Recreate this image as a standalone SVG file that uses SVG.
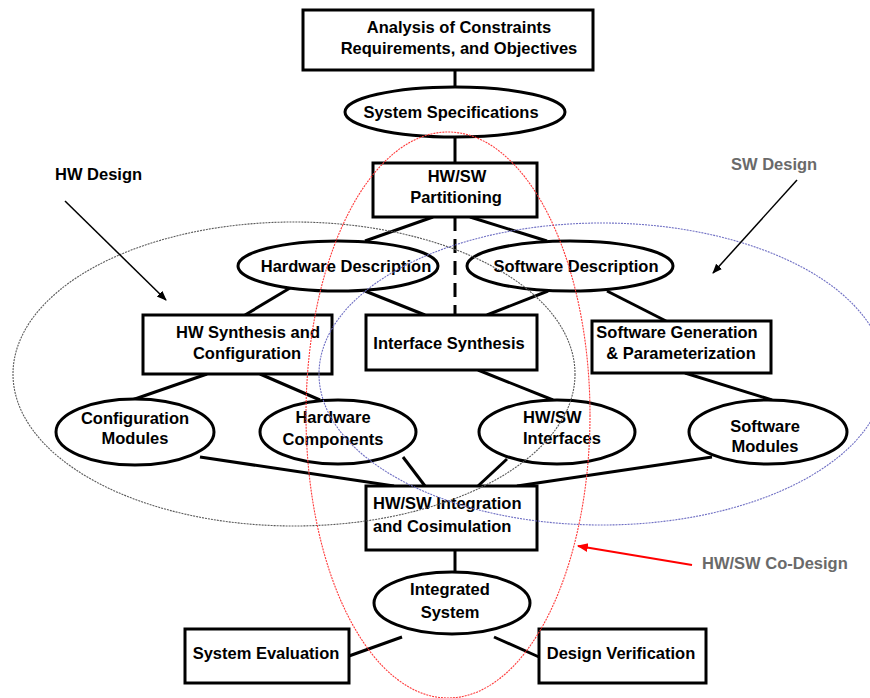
<svg xmlns="http://www.w3.org/2000/svg" width="870" height="698" viewBox="0 0 870 698">
  <style>
    .box { fill: #fff; stroke: #000; stroke-width: 3; }
    .oval { fill: #fff; stroke: #000; stroke-width: 3; }
    .link { stroke: #000; stroke-width: 3; fill: none; }
    .t { font-family: "Liberation Sans", Arial, sans-serif; font-weight: bold; font-size: 16.5px; fill: #000; }
    .c { text-anchor: middle; }
    .grey { fill: #6a6a6a; }
    .region { fill: none; stroke-width: 1.1; stroke-dasharray: 2 1; }
  </style>
  <defs>
    <marker id="head" viewBox="0 0 10 10" refX="9" refY="5" markerWidth="10" markerHeight="10" markerUnits="userSpaceOnUse" orient="auto">
      <path d="M0,1 L10,5 L0,9 z" fill="#000"/>
    </marker>
    <marker id="headRed" viewBox="0 0 10 10" refX="9" refY="5" markerWidth="11" markerHeight="11" markerUnits="userSpaceOnUse" orient="auto">
      <path d="M0,1 L10,5 L0,9 z" fill="#f00"/>
    </marker>
  </defs>
  <rect width="870" height="698" fill="#fff"/>

  <!-- connectors -->
  <g id="connectors">
    <line class="link" x1="455" y1="70" x2="455" y2="88"/>
    <line class="link" x1="455" y1="138" x2="455" y2="163"/>
    <line class="link" x1="455" y1="217" x2="455" y2="315" stroke-dasharray="14 8"/>
    <line class="link" x1="433" y1="217" x2="365" y2="241"/>
    <line class="link" x1="470" y1="217" x2="547" y2="241"/>
    <line class="link" x1="365" y1="291" x2="425" y2="315"/>
    <line class="link" x1="548" y1="291" x2="487" y2="315"/>
    <line class="link" x1="290" y1="288" x2="245" y2="315"/>
    <line class="link" x1="607" y1="291" x2="666" y2="321"/>
    <line class="link" x1="207" y1="374" x2="132" y2="400"/>
    <line class="link" x1="260" y1="374" x2="320" y2="400"/>
    <line class="link" x1="478" y1="370" x2="553" y2="400"/>
    <line class="link" x1="685" y1="373" x2="772" y2="400"/>
    <line class="link" x1="200" y1="457" x2="394" y2="486"/>
    <line class="link" x1="403" y1="457" x2="425" y2="486"/>
    <line class="link" x1="507" y1="459" x2="478" y2="486"/>
    <line class="link" x1="712" y1="457" x2="517" y2="486"/>
    <line class="link" x1="455" y1="550" x2="455" y2="572"/>
    <line class="link" x1="402" y1="637" x2="349" y2="656"/>
    <line class="link" x1="494" y1="637" x2="539" y2="657"/>
  </g>

  <!-- nodes -->
  <g id="analysis">
    <rect class="box" x="303" y="10" width="290" height="60"/>
    <text class="t c" x="459" y="33">Analysis of Constraints</text>
    <text class="t c" x="459" y="54">Requirements, and Objectives</text>
  </g>
  <g id="system-specifications">
    <ellipse class="oval" cx="455" cy="112" rx="110" ry="25"/>
    <text class="t c" x="451" y="118">System Specifications</text>
  </g>
  <g id="partitioning">
    <rect class="box" x="373" y="163" width="164" height="54"/>
    <text class="t c" x="457" y="182">HW/SW</text>
    <text class="t c" x="456" y="203">Partitioning</text>
  </g>
  <g id="hardware-description">
    <ellipse class="oval" cx="338" cy="266" rx="100" ry="25"/>
    <text class="t c" x="346" y="272">Hardware Description</text>
  </g>
  <g id="software-description">
    <ellipse class="oval" cx="570" cy="266" rx="103" ry="25"/>
    <text class="t c" x="576" y="272">Software Description</text>
  </g>
  <g id="hw-synthesis">
    <rect class="box" x="143" y="315" width="189" height="59"/>
    <text class="t c" x="248" y="338">HW Synthesis and</text>
    <text class="t c" x="247" y="359">Configuration</text>
  </g>
  <g id="interface-synthesis">
    <rect class="box" x="366" y="315" width="171" height="55"/>
    <text class="t c" x="449" y="349">Interface Synthesis</text>
  </g>
  <g id="software-generation">
    <rect class="box" x="592" y="321" width="179" height="52"/>
    <text class="t c" x="677" y="338">Software Generation</text>
    <text class="t c" x="681" y="359">&amp; Parameterization</text>
  </g>
  <g id="configuration-modules">
    <ellipse class="oval" cx="135" cy="432" rx="79" ry="33"/>
    <text class="t c" x="135" y="424">Configuration</text>
    <text class="t c" x="135" y="444">Modules</text>
  </g>
  <g id="hardware-components">
    <ellipse class="oval" cx="338" cy="432" rx="78" ry="32"/>
    <text class="t c" x="333" y="423">Hardware</text>
    <text class="t c" x="333" y="445">Components</text>
  </g>
  <g id="hwsw-interfaces">
    <ellipse class="oval" cx="557" cy="432" rx="78" ry="32"/>
    <text class="t" x="523" y="423">HW/SW</text>
    <text class="t" x="523" y="444">Interfaces</text>
  </g>
  <g id="software-modules">
    <ellipse class="oval" cx="768" cy="432" rx="79" ry="32"/>
    <text class="t c" x="765" y="432">Software</text>
    <text class="t c" x="765" y="452">Modules</text>
  </g>
  <g id="integration">
    <rect class="box" x="366" y="486" width="171" height="64"/>
    <text class="t" x="373" y="509">HW/SW Integration</text>
    <text class="t" x="373" y="532">and Cosimulation</text>
  </g>
  <g id="integrated-system">
    <ellipse class="oval" cx="452" cy="603" rx="78" ry="31"/>
    <text class="t c" x="450" y="595">Integrated</text>
    <text class="t c" x="450" y="618">System</text>
  </g>
  <g id="system-evaluation">
    <rect class="box" x="185" y="629" width="164" height="54"/>
    <text class="t c" x="266" y="659">System Evaluation</text>
  </g>
  <g id="design-verification">
    <rect class="box" x="539" y="629" width="167" height="54"/>
    <text class="t c" x="621" y="659">Design Verification</text>
  </g>

  <!-- design regions -->
  <g id="regions">
    <ellipse class="region" cx="294" cy="374" rx="281" ry="152" stroke="#5a5a5a"/>
    <ellipse class="region" cx="602" cy="374" rx="283" ry="151" stroke="#7070c4"/>
    <ellipse class="region" cx="448" cy="415" rx="142" ry="283" stroke="#ff3a3a"/>
  </g>

  <!-- region labels -->
  <g id="hw-design-label">
    <text class="t" x="55" y="180">HW Design</text>
    <line x1="65" y1="201" x2="166" y2="300" stroke="#000" stroke-width="1.5" marker-end="url(#head)"/>
  </g>
  <g id="sw-design-label">
    <text class="t grey" x="731" y="170">SW Design</text>
    <line x1="797" y1="180" x2="713" y2="273" stroke="#000" stroke-width="1.5" marker-end="url(#head)"/>
  </g>
  <g id="codesign-label">
    <text class="t grey" x="702" y="569">HW/SW Co-Design</text>
    <line x1="692" y1="565" x2="578" y2="546" stroke="#f00" stroke-width="2" marker-end="url(#headRed)"/>
  </g>
</svg>
